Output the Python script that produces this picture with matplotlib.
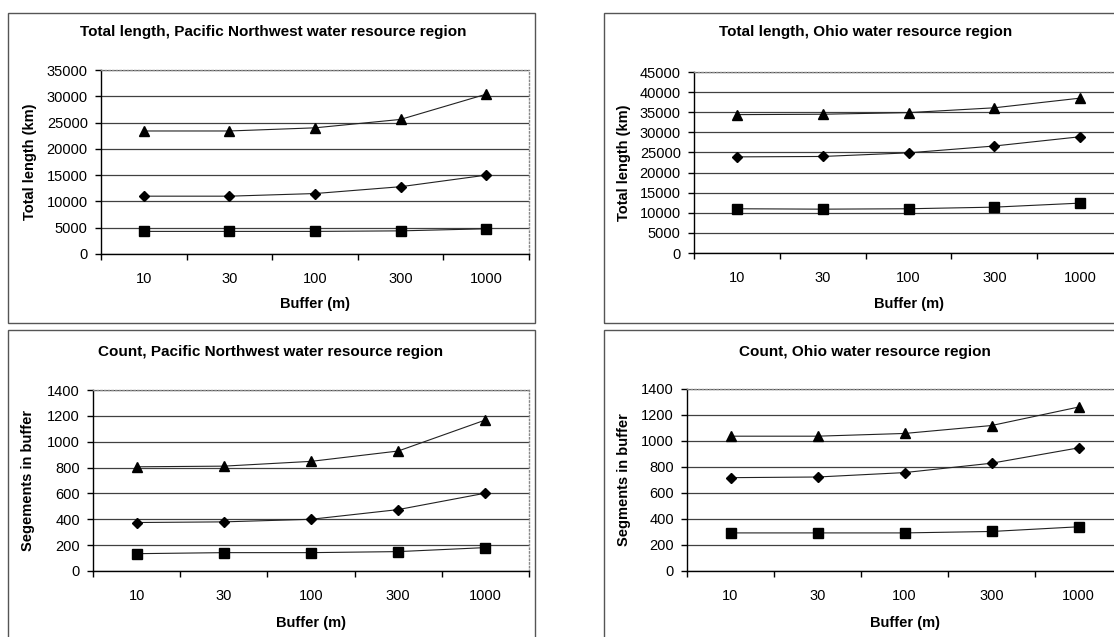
import matplotlib
matplotlib.use('Agg')
import matplotlib.pyplot as plt
from matplotlib.patches import Rectangle
import numpy as np

plt.rc('font', family=['Liberation Sans', 'DejaVu Sans'], size=10.5)

# Data ========================================================================
buffers = ['10', '30', '100', '300', '1000']

pnw_len_tri = [23400, 23400, 24000, 25600, 30400]
pnw_len_dia = [11000, 11000, 11500, 12800, 15000]
pnw_len_sq = [4300, 4300, 4300, 4400, 4800]

ohio_len_tri = [34400, 34500, 34900, 36100, 38500]
ohio_len_dia = [23900, 24000, 24900, 26600, 28900]
ohio_len_sq = [11000, 10900, 11000, 11400, 12400]

pnw_cnt_tri = [806, 811, 848, 928, 1168]
pnw_cnt_dia = [375, 380, 400, 475, 602]
pnw_cnt_sq = [134, 142, 142, 150, 181]

ohio_cnt_tri = [1037, 1037, 1058, 1119, 1261]
ohio_cnt_dia = [718, 723, 757, 829, 947]
ohio_cnt_sq = [293, 293, 293, 304, 340]

W, H = 1114, 637
fig = plt.figure(figsize=(W / 100, H / 100), dpi=100)


def fx(x):
    return x / W


def fy(y):
    return 1 - y / H


def panel(box, rect, title, title_xy, ylabel, ylabel_x, xlabel_y,
          tri, dia, sq, ymax, ystep):
    # outer frame of the chart object
    bx0, by0, bx1, by1 = box
    fig.patches.append(Rectangle((fx(bx0), fy(by1)), fx(bx1 - bx0), (by1 - by0) / H,
                                 transform=fig.transFigure, fill=False,
                                 edgecolor='#555555', linewidth=1.0))
    l, t, r, b = rect
    ax = fig.add_axes([fx(l), fy(b), fx(r - l), (b - t) / H])
    x = np.arange(len(buffers))
    ax.plot(x, tri, color='#222222', lw=0.8, marker='^', ms=7.5, mfc='k', mec='k', zorder=3)
    ax.plot(x, dia, color='#222222', lw=0.8, marker='D', ms=5.5, mfc='k', mec='k', zorder=3)
    ax.plot(x, sq, color='#222222', lw=0.8, marker='s', ms=6.5, mfc='k', mec='k', zorder=3)
    ax.set_xlim(-0.5, len(buffers) - 0.5)
    ax.set_ylim(0, ymax)
    ax.set_yticks(np.arange(0, ymax + 1, ystep))
    ax.set_xticks(x)
    ax.set_xticklabels(buffers)
    ax.set_xticks(np.arange(-0.5, len(buffers)), minor=True)
    ax.tick_params(axis='x', which='major', length=0, pad=13, labelsize=10.5)
    ax.tick_params(axis='x', which='minor', length=4, direction='out', width=1)
    ax.tick_params(axis='y', length=4, direction='out', width=1, pad=5.5, labelsize=10.5)
    ax.yaxis.grid(True, color='#404040', lw=0.9)
    ax.set_axisbelow(True)
    for s in ['left', 'bottom']:
        ax.spines[s].set_color('k')
        ax.spines[s].set_linewidth(1.0)
    for s in ['top', 'right']:
        ax.spines[s].set_color('#888888')
        ax.spines[s].set_linestyle(':')
        ax.spines[s].set_linewidth(1.0)
    fig.text(fx(title_xy[0]), fy(title_xy[1]), title, ha='center', va='center',
             fontsize=11, fontweight='bold')
    fig.text(fx(ylabel_x), fy((t + b) / 2), ylabel, ha='center', va='center',
             rotation=90, fontsize=10.5, fontweight='bold')
    fig.text(fx((l + r) / 2), fy(xlabel_y), 'Buffer (m)', ha='center', va='center',
             fontsize=10.5, fontweight='bold')
    return ax


panel((8, 13, 535, 323), (101, 70, 529, 254),
      'Total length, Pacific Northwest water resource region', (273, 32),
      'Total length (km)', 30, 304,
      pnw_len_tri, pnw_len_dia, pnw_len_sq, 35000, 5000)

panel((604, 13, 1140, 323), (694, 72, 1123, 253),
      'Total length, Ohio water resource region', (866, 32),
      'Total length (km)', 624, 304,
      ohio_len_tri, ohio_len_dia, ohio_len_sq, 45000, 5000)

panel((8, 330, 535, 660), (93, 390, 529, 571),
      'Count, Pacific Northwest water resource region', (271, 352),
      'Segements in buffer', 28, 623,
      pnw_cnt_tri, pnw_cnt_dia, pnw_cnt_sq, 1400, 200)

panel((604, 330, 1140, 660), (687, 389, 1122, 571),
      'Count, Ohio water resource region', (865, 352),
      'Segments in buffer', 624, 623,
      ohio_cnt_tri, ohio_cnt_dia, ohio_cnt_sq, 1400, 200)

fig.savefig('out.png', dpi=100)
plt.close(fig)
